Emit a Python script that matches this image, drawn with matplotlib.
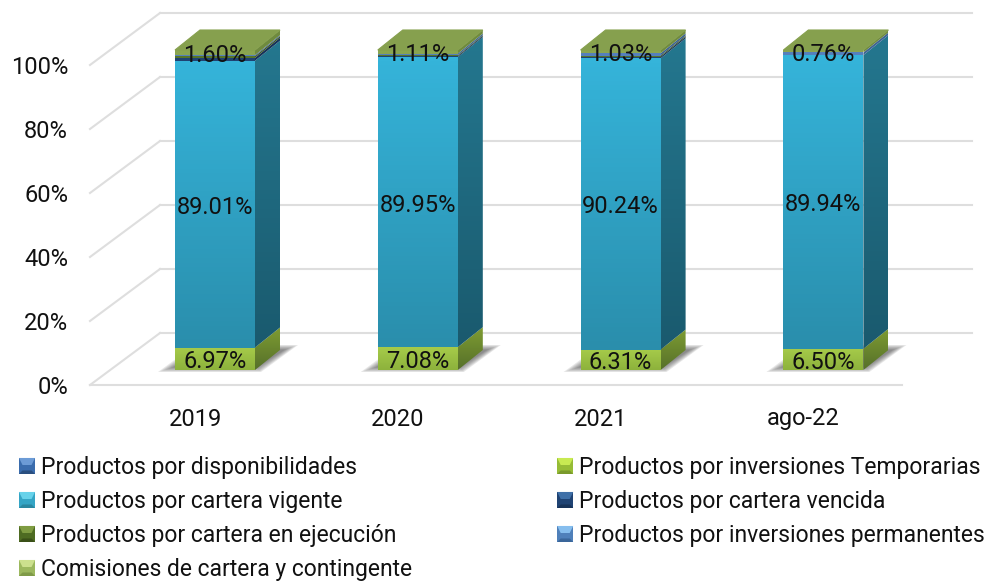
import numpy as np
import matplotlib
matplotlib.use('Agg')
import matplotlib.pyplot as plt
from matplotlib.colors import to_rgb
from matplotlib.legend_handler import HandlerBase
from matplotlib.patches import Polygon, Patch

plt.rcParams['font.family'] = ['Roboto', 'DejaVu Sans']

categories = ['2019', '2020', '2021', 'ago-22']
y_ticks = [0, 20, 40, 60, 80, 100]

# raw values, the chart is a 100% stack so each column gets normalised
disponibilidades = [0.0, 0.0, 0.0, 0.0]
inv_temporarias = [6.97, 7.08, 6.31, 6.50]
cartera_vigente = [89.01, 89.95, 90.24, 89.94]
cartera_vencida = [0.90, 0.35, 0.50, 0.0]
cartera_ejecucion = [0.50, 0.22, 0.35, 0.0]
inv_permanentes = [0.32, 0.50, 0.70, 0.80]
comisiones = [1.60, 1.11, 1.03, 0.76]

labels = ['Productos por disponibilidades', 'Productos por cartera vigente',
          'Productos por cartera en ejecución', 'Comisiones de cartera y contingente',
          'Productos por inversiones Temporarias', 'Productos por cartera vencida',
          'Productos por inversiones permanentes']

# front top, front bottom, side top, side bottom
stack = [
    (disponibilidades, '#3A6CAD', '#3A6CAD', '#2A4F80', '#2A4F80'),
    (inv_temporarias, '#A6CB4A', '#8DB23C', '#7E9C32', '#56702A'),
    (cartera_vigente, '#35B4DA', '#2A8EAC', '#24778F', '#1A5A6E'),
    (cartera_vencida, '#1F4373', '#1F4373', '#173358', '#173358'),
    (cartera_ejecucion, '#56752A', '#56752A', '#3F561E', '#3F561E'),
    (inv_permanentes, '#5580BC', '#5580BC', '#3F6494', '#3F6494'),
    (comisiones, '#8AA550', '#8AA550', '#6F8A3E', '#6F8A3E'),
]
roof_color = '#86A04E'
grid_color = '#DEDEDE'

# legend swatches: top, middle, bottom
swatches = {
    labels[0]: ('#6C9BD6', '#3A6CAD', '#2A4F80'),
    labels[1]: ('#67D2EA', '#35A5C5', '#2A87A0'),
    labels[2]: ('#7F9C42', '#4E6B22', '#3A5018'),
    labels[3]: ('#CCE08E', '#9CB85E', '#7F9A48'),
    labels[4]: ('#C8EA52', '#96BC36', '#7A9A2C'),
    labels[5]: ('#3F70A8', '#1F4373', '#173358'),
    labels[6]: ('#86BEEE', '#4F80BA', '#3A669A'),
}

W, H = 993, 583
PX_X = 1 / 202.8     # category units per pixel
PX_Y = 1 / 3.2       # percent per pixel
half = 40 * PX_X
dx, dy = 25 * PX_X, 20 * PX_Y            # bar depth
wall_dx, wall_dy = 70 * PX_X, 52 * PX_Y  # floor depth
text_size = 17

fig = plt.figure(figsize=(W / 100, H / 100), dpi=100)
ax = fig.add_axes([0, 0, 1, 1])


def shade(verts, c_top, c_bot, z):
    verts = np.array(verts)
    t = np.linspace(0, 1, 64)[:, None, None]
    img = (1 - t) * np.array(to_rgb(c_top))[None, None, :] + t * np.array(to_rgb(c_bot))[None, None, :]
    ext = [verts[:, 0].min(), verts[:, 0].max(), verts[:, 1].min(), verts[:, 1].max()]
    im = ax.imshow(img, extent=ext, aspect='auto', zorder=z, origin='upper')
    poly = Polygon(verts, closed=True, transform=ax.transData, fc='none', ec='none')
    ax.add_patch(poly)
    im.set_clip_path(poly)


# back wall and floor grid
x_front = -215 * PX_X + 90 * PX_X
floor_y = -15 * PX_Y
x_right = x_front + 812 * PX_X
for t in y_ticks:
    y0 = floor_y + t
    ax.plot([x_front, x_front + wall_dx], [y0, y0 + wall_dy], color=grid_color, lw=1.5, zorder=1)
    ax.plot([x_front + wall_dx, x_right + wall_dx], [y0 + wall_dy] * 2, color=grid_color, lw=1.5, zorder=1)
    ax.text(x_front - 22 * PX_X, y0 - 3 * PX_Y, '%d%%' % t, ha='right', va='center',
            fontsize=text_size, color='#111111')
ax.plot([x_front, x_right], [floor_y, floor_y], color=grid_color, lw=1.5, zorder=1)

for i, cat in enumerate(categories):
    # soft shadow on the floor
    for k in range(7):
        g = k * 1.6
        sh = [(i + (-57 + g * 1.6) * PX_X, (-2 + g * 0.5) * PX_Y),
              (i + (46 - g * 0.4) * PX_X, (-2 + g * 0.5) * PX_Y),
              (i + (83 - g * 1.4) * PX_X, (25 - g * 0.5) * PX_Y),
              (i + (-20 + g) * PX_X, (25 - g * 0.5) * PX_Y)]
        ax.add_patch(Polygon(sh, closed=True, fc='#4A4A4A', ec='none', alpha=0.13, zorder=2))

    total = sum(s[0][i] for s in stack)
    bottom = 0
    for values, c1, c2, c3, c4 in stack:
        h = values[i] / total * 100
        if h > 0:
            top = bottom + h
            shade([(i - half, bottom), (i + half, bottom), (i + half, top), (i - half, top)], c1, c2, 3)
            shade([(i + half, bottom), (i + half + dx, bottom + dy),
                   (i + half + dx, top + dy), (i + half, top)], c3, c4, 3)
        bottom += h
    ax.add_patch(Polygon([(i - half, 100), (i + half, 100), (i + half + dx, 100 + dy), (i - half + dx, 100 + dy)],
                         closed=True, fc=roof_color, ec=roof_color, lw=0.8, zorder=4))

    # data labels, the small rest of the stack stays unlabelled
    y_t = inv_temporarias[i] / total * 100
    y_v = cartera_vigente[i] / total * 100
    y_c = comisiones[i] / total * 100
    for val, yy in [(inv_temporarias[i], y_t / 2),
                    (cartera_vigente[i], y_t + y_v / 2),
                    (comisiones[i], 100 - y_c / 2)]:
        ax.text(i, yy - 3 * PX_Y, '%.2f%%' % val, ha='center', va='center', fontsize=text_size,
                color='#111111', zorder=6)
    ax.text(i - 20 * PX_X, -49 * PX_Y, cat, ha='center', va='center', fontsize=text_size, color='#111111')


class BevelHandler(HandlerBase):
    def create_artists(self, legend, orig, xd, yd, width, height, fontsize, trans):
        x0, y0 = -xd, -yd
        x1, y1 = x0 + width, y0 + height
        e = width * 0.22
        top, mid, bot = swatches[orig.get_label()]
        parts = [
            ([(x0, y0), (x1, y0), (x1, y1), (x0, y1)], mid),
            ([(x0, y1), (x1, y1), (x1 - e, y1 - 2 * e), (x0 + e, y1 - 2 * e)], top),
            ([(x0, y0), (x1, y0), (x1 - e, y0 + e), (x0 + e, y0 + e)], bot),
        ]
        return [Polygon(v, closed=True, fc=c, ec='none', transform=trans) for v, c in parts]


handles = [Patch(label=l) for l in labels]
leg = ax.legend(handles=handles, ncols=2, frameon=False, fontsize=16.5,
                loc='upper left', bbox_to_anchor=(19 / W, 1 - 456 / H),
                bbox_transform=fig.transFigure, borderpad=0, borderaxespad=0,
                handler_map={Patch: BevelHandler()}, handlelength=0.7, handleheight=0.7,
                handletextpad=0.27, labelspacing=0.48, columnspacing=6.32)
for t in leg.get_texts():
    t.set_color('#111111')

ax.set_xlim(-215 * PX_X, (W - 215) * PX_X)
ax.set_ylim((370 - H) * PX_Y, 370 * PX_Y)
ax.axis('off')

fig.savefig('out.png', dpi=100)
